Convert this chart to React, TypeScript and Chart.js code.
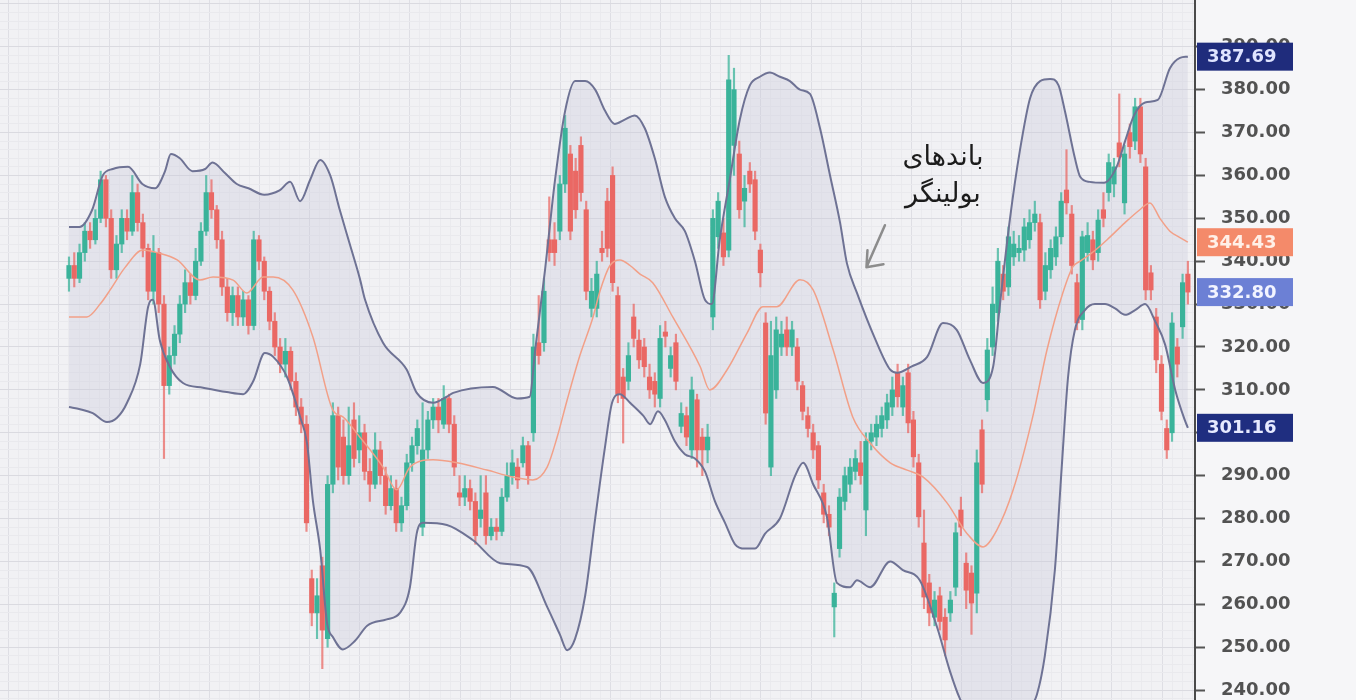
import React, { useEffect, useRef } from "react";
import { Chart, registerables } from "chart.js";

Chart.register(...registerables);

// ---------- candle data (index 0..212) ----------
const opens = [
  336, 339, 336, 342, 347, 345, 350, 359, 350, 338, 344, 350, 347, 356, 349, 343, 333, 342, 330, 311,
  318, 323, 330, 335, 332, 340, 347, 356, 352, 345, 334, 328, 332, 327, 331, 325, 345, 340, 333, 326,
  320, 316, 319, 312, 306, 302, 266, 258, 269, 252, 288, 304, 299, 290, 303, 296, 300, 291, 288, 296,
  290, 283, 287, 279, 283, 293, 297, 278, 296, 303, 306, 302, 308, 302, 286, 285, 287, 284, 280, 286,
  276, 278, 277, 285, 290, 292, 293, 297, 300, 321, 321, 345, 345, 347, 358, 365, 361, 367, 352, 329,
  329, 343, 354, 360, 332, 313, 312, 327, 321.6, 320, 313, 312, 308, 323.5, 315, 321, 301.5, 304, 296, 307.7,
  299, 296, 327, 345.7, 346.6, 342.6, 367, 365, 354, 361, 359, 342.6, 325.6, 292, 310, 320, 324, 320, 320, 311,
  304, 300, 297, 286, 281, 259.4, 273, 284, 288, 291, 293, 282, 298, 299, 301, 303, 306, 314, 306, 314,
  303, 293, 274.3, 265, 257, 262, 257, 258, 264, 282, 269.6, 267.3, 262.6, 300.7, 307.7, 320, 328, 337, 334, 341,
  342, 342.6, 345, 349, 349, 333, 338, 341, 345.7, 356.6, 351, 335, 326.4, 342, 345, 342, 352, 356, 358, 367.6,
  353.6, 370, 368, 376, 362, 337.3, 327, 316, 301, 300, 320, 324.7, 337,
];
const highs = [
  341, 342, 344, 349, 349, 352, 361, 360, 352, 346, 352, 352, 360, 358, 351, 344, 346, 343, 332, 320,
  325, 332, 338, 337, 343, 349, 360, 359, 353, 347, 336, 334, 334, 333, 332, 347, 346, 341, 334, 328,
  322, 322, 320, 314, 308, 304, 268, 266, 271, 290, 307, 306, 303, 306, 307, 304, 302, 294, 300, 298,
  292, 290, 289, 285, 295, 299, 303, 307, 305, 308, 308, 311, 309, 304, 290, 290, 289, 286, 290, 290,
  280, 280, 287, 293, 296, 294, 299, 298, 323, 332, 336, 355, 349, 360, 374, 367, 364, 369, 354, 336,
  340, 347, 357, 362, 334, 315, 321, 330, 324, 322, 316, 314, 325, 326, 320, 323, 307, 306, 313, 309,
  301, 302, 352, 356, 350, 388, 385, 368, 360, 363, 361, 344, 328, 326, 327, 326, 327, 326, 322, 312,
  306, 302, 298, 288, 283, 265, 287, 292, 294, 296, 298, 300, 302, 304, 306, 309, 313, 316, 313, 316,
  305, 295, 282, 267, 263, 264, 259, 263, 279, 285, 272, 269, 296, 303, 322, 334, 343, 339, 348, 347,
  346, 350, 352, 354, 351, 342, 345, 348, 356, 366, 353, 337, 347, 349, 347, 352, 356, 365, 364, 379,
  367, 372, 378, 378, 364, 339, 329, 318, 303, 328, 322, 337, 340,
];
const lows = [
  333, 334, 335, 340, 343, 344, 349, 348, 336, 336, 342, 345, 346, 347, 341, 331, 330, 328, 294, 309,
  316, 321, 328, 330, 331, 339, 346, 350, 343, 332, 326, 325, 325, 325, 323, 324, 338, 331, 324, 318,
  314, 313, 310, 304, 300, 277, 255, 252, 245, 250, 286, 289, 288, 288, 292, 293, 289, 284, 287, 288,
  281, 282, 277, 277, 282, 291, 295, 276, 294, 301, 300, 301, 300, 290, 283, 283, 282, 274, 278, 274,
  275, 275, 276, 284, 288, 287, 292, 288, 298, 316, 319, 340, 339, 345, 356, 345, 350, 354, 331, 327,
  327, 340, 341, 333, 307, 297.6, 310, 320, 315, 313, 308, 306, 306, 320, 313, 310, 300, 297, 294, 292,
  290, 293, 324, 343, 339, 341, 360, 350, 348, 356, 345, 334, 302, 290, 308, 318, 318, 318, 310, 303,
  299, 294, 287, 279, 276, 252.4, 271, 282, 286, 289, 288, 276, 296, 297, 299, 301, 304, 306, 304, 300,
  292, 278, 259, 255, 255, 254, 248, 256, 262, 276, 259, 253, 258, 286, 305, 318, 326, 331, 332, 339,
  340, 340, 343, 347, 329, 331, 336, 339, 344, 351, 337, 324, 324, 340, 338, 340, 348, 354, 355, 362,
  351, 364, 366, 363, 331, 331, 314, 303, 294, 298, 313, 322, 330,
];
const closes = [
  339, 336, 342, 347, 345, 350, 359, 350, 338, 344, 350, 347, 356, 349, 343, 333, 342, 330, 311, 318,
  323, 330, 335, 332, 340, 347, 356, 352, 345, 334, 328, 332, 327, 331, 325, 345, 340, 333, 326, 320,
  316, 319, 312, 306, 302, 279, 258, 262, 254, 288, 304, 292, 290, 297, 294, 300, 291, 288, 296, 290,
  283, 287, 279, 283, 293, 297, 301, 296, 303, 306, 303, 308, 302, 292, 285, 287, 284, 276, 282, 276,
  278, 277, 285, 290, 293, 289, 297, 290, 320, 318, 333, 342, 342, 358, 371, 347, 352, 356, 333, 333,
  337, 342, 343, 335, 309, 308, 318, 322, 317, 315.4, 310, 309, 322, 322.5, 318, 312, 304.5, 299, 310, 296,
  296, 299, 350, 354, 341, 382.3, 380, 352, 357, 358, 347, 337.3, 304.6, 318, 324, 323, 320, 324, 312, 305,
  301, 296, 289, 281, 278, 262.6, 285, 290, 292, 294, 290, 298, 300, 302, 304, 307, 310, 308.4, 311, 302.3,
  294.4, 280.4, 261.7, 258, 261, 256, 251.7, 261, 276.7, 278, 263.3, 260.3, 293, 288, 319.3, 330, 340, 333, 345.7, 344,
  343, 348, 349, 351, 331, 339, 343, 345.7, 354, 353.6, 339, 325.6, 345.7, 346, 340.3, 349.6, 350, 363, 362, 364.3,
  365, 366.7, 376, 365, 333.3, 333.3, 317, 305, 296, 325.6, 316, 335, 332.8,
];

// ---------- Bollinger bands: [candle index, price] ----------
const upperBand: [number, number][] = [
  [0, 348], [2, 348], [4.4, 352], [6.4, 360], [8.3, 361.5], [11.2, 362], [13.9, 358], [16.3, 357],
  [18.2, 361], [19.3, 365], [21, 364], [23.4, 361], [25.8, 361.5], [27.2, 363], [29.6, 360.5], [31.8, 358],
  [34, 357], [37, 355.5], [39.9, 356.5], [41.9, 358.5], [43.8, 354], [45.7, 359], [47.6, 363.6], [49.5, 360],
  [51.3, 352], [53.2, 344], [55.1, 336], [56.1, 331], [59.5, 321], [64, 314.7], [65.9, 309.3], [69, 307],
  [71.6, 308.4], [72.8, 309.3], [80.3, 310.7], [84.9, 308], [87.3, 308.4], [88.3, 319], [90.2, 338], [92.1, 359],
  [94, 375], [95.9, 382], [97.8, 382], [99.7, 380], [101.6, 375], [103.4, 372], [105.3, 373], [107.2, 374],
  [109.1, 371], [111, 364], [112.9, 355], [114.8, 350], [116.7, 347], [118.6, 340], [120.5, 331], [121.8, 330],
  [123.3, 345], [125.2, 359], [127.1, 373], [129, 381], [130.9, 383], [132.8, 384], [134.7, 383], [136.6, 382],
  [138.5, 380], [140.4, 379], [142.3, 371], [144.2, 360], [146.1, 349], [147.4, 339.5], [149.3, 332.6], [152.7, 322],
  [155.6, 314.7], [156.9, 314], [159.7, 315.5], [162.6, 317.7], [165.6, 325.6], [168.2, 324], [170.7, 317], [173.2, 311.6],
  [175.1, 315.4], [176.4, 330], [178.3, 350], [180.2, 366], [182.1, 378], [184, 382], [185.9, 382.5], [187.5, 381],
  [188.7, 375], [190.6, 364], [191.6, 359.7], [193.4, 358.5], [196.1, 358.3], [198.5, 362], [200.1, 368], [201.8, 374],
  [203.9, 377], [206.3, 377.6], [208.6, 385], [210.5, 387.4], [212, 387.69],
];
const middleBand: [number, number][] = [
  [0, 327], [3.4, 327], [5.9, 330], [7.8, 333.3], [10.6, 338.5], [14, 342.6], [16.7, 342], [20.5, 340.3],
  [24.8, 335.6], [27.3, 336.3], [31.1, 335.6], [33.7, 332.6], [36.8, 336.3], [38.7, 336.3], [42.4, 333.3], [46.2, 322.4],
  [50, 305.3], [51.9, 303.7], [55.1, 299], [59.5, 292], [62.1, 286.7], [64.6, 292], [69, 293.7], [73.5, 293],
  [79.2, 291.3], [84.1, 289.7], [87.9, 289], [90.6, 292], [92.5, 299], [94.4, 307.7], [96.8, 318], [99.3, 327],
  [100.6, 333], [102.5, 339], [104.4, 340.3], [106.3, 339], [108.2, 337], [110.6, 335], [114.4, 327], [119.6, 315.4],
  [121.4, 310], [124.7, 314.7], [128.5, 323.3], [131.5, 329.4], [134.1, 329.4], [138.5, 335.7], [141, 333.3], [144.8, 319.3],
  [148.5, 303.7], [151.8, 297.6], [155.6, 293], [158.8, 291.3], [161.8, 289.7], [166.4, 283.6], [170.1, 276.6], [173.2, 273.4],
  [175.8, 277.3], [178.9, 286.7], [182.6, 303.7], [185.3, 319.3], [188.3, 332.6], [190.2, 338.7], [191.6, 340], [194.4, 342.5],
  [196.7, 345], [200.1, 349], [202.9, 352], [204.8, 353.6], [206.7, 350], [208.6, 347], [210.5, 345.5], [212, 344.43],
];
const lowerBand: [number, number][] = [
  [0, 306], [2.1, 305.5], [4.5, 304.6], [7.2, 302.5], [9.1, 303.5], [11, 307], [13.5, 316], [15, 329.4],
  [15.9, 331], [17.2, 321.6], [19.1, 315.4], [21.6, 311.6], [25.4, 310.5], [29.9, 309.5], [33, 309], [34.9, 312],
  [37.1, 318.6], [38.7, 317.7], [41.3, 313], [43.8, 303.7], [45.1, 297.6], [46.2, 284.3], [47.6, 272.7], [48.9, 255.6],
  [50, 252.4], [51.9, 249.5], [54.2, 251.5], [56.5, 255], [60.2, 256.5], [62.7, 258], [64.6, 264], [65.9, 276.6],
  [67.1, 279], [71.6, 278.5], [76.5, 275], [81.7, 269.6], [86.8, 268.7], [90.6, 259.4], [93, 253], [94.4, 249.3],
  [95.9, 252], [97.8, 262], [99.7, 280], [101.6, 297], [102.9, 307], [104.4, 309], [106.3, 307], [108.8, 304],
  [110.1, 302], [111.6, 305], [112.9, 303], [114.8, 298], [116.7, 295], [118.6, 294], [120.5, 291], [122.4, 284],
  [124.3, 279], [126.2, 274], [128.1, 273], [130, 273], [131.9, 276.5], [134.7, 280], [137.6, 290], [139.1, 293],
  [141, 288], [143.6, 280.4], [145.5, 265], [148, 264], [149.3, 265.6], [151.8, 264], [155.6, 270], [158, 268],
  [161.2, 265.6], [164.5, 254.6], [166.9, 244.5], [168.8, 238], [170.7, 234], [173.6, 231], [176.4, 229.5], [179.2, 230.5],
  [181.7, 235], [183.4, 239], [184.9, 248], [186.8, 268], [188.1, 292], [189.3, 313], [190.6, 324], [192.5, 328.6],
  [194.4, 330], [196.3, 330], [198.2, 329], [200.1, 327.5], [202, 328.6], [203.9, 330], [205.8, 326], [207.7, 320.5],
  [209.6, 310], [211.4, 303], [212, 301.16],
];

// ---------- price labels on the axis ----------
const badgeValues = [387.69, 344.43, 332.8, 301.16];
const badgeColors = ["#1f2c7c", "#f48a6a", "#6c80d5", "#1f2e80"];
const badgeTextColors = ["#dfe4ff", "#fff0e8", "#f2f4ff", "#e6eaff"];

// ---------- annotation ----------
const annotationLines = ["باندهای", "بولینگر"];
const annotationAnchor = { idx: 165.6, values: [364, 355.4] };
const arrowFrom = { idx: 154.6, value: 348.4 };
const arrowTo = { idx: 151.1, value: 338.6 };

const yMin = 237.7;
const yMax = 400.9;
const xMin = -13.07;
const xMax = 213.35;
const labelMin = 240;
const labelMax = 390;

const GREEN = "#3ab39a";
const RED = "#ea6864";
const GREEN_W = "rgba(58,179,154,0.75)";
const RED_W = "rgba(234,104,100,0.75)";

export default function App() {
  const canvasRef = useRef<HTMLCanvasElement | null>(null);

  useEffect(() => {
    const canvas = canvasRef.current;
    if (!canvas) return;

    const idx = opens.map((_, i) => i);
    const up = idx.map((i) => closes[i] >= opens[i]);
    const bodyData = idx.map((i) => ({ x: i, y: [opens[i], closes[i]] }));
    const wickData = idx.map((i) => ({ x: i, y: [lows[i], highs[i]] }));
    const toPts = (arr: [number, number][]) => arr.map(([x, y]) => ({ x, y }));

    const bgPlugin = {
      id: "bgPlugin",
      beforeDraw(chart: any) {
        const { ctx, chartArea, width, height } = chart;
        ctx.save();
        ctx.fillStyle = "#f6f6f8";
        ctx.fillRect(0, 0, width, height);
        ctx.fillStyle = "#f1f1f4";
        ctx.fillRect(chartArea.left, chartArea.top, chartArea.right - chartArea.left, chartArea.bottom - chartArea.top);
        ctx.restore();
      },
    };

    const overlayPlugin = {
      id: "overlayPlugin",
      afterDraw(chart: any) {
        const { ctx, chartArea } = chart;
        const xs = chart.scales.x;
        const ys = chart.scales.y;
        ctx.save();
        // badges
        badgeValues.forEach((v, k) => {
          const py = ys.getPixelForValue(v);
          ctx.fillStyle = badgeColors[k];
          ctx.fillRect(chartArea.right + 2, py - 14, 96, 28);
          ctx.fillStyle = badgeTextColors[k];
          ctx.font = 'bold 18px "DejaVu Sans"';
          ctx.textAlign = "left";
          ctx.textBaseline = "middle";
          ctx.fillText(v.toFixed(2), chartArea.right + 12, py + 1);
        });
        // annotation text
        ctx.fillStyle = "#1c1c1c";
        ctx.font = '27px "DejaVu Sans"';
        ctx.textAlign = "center";
        ctx.textBaseline = "middle";
        (ctx as any).direction = "rtl";
        annotationLines.forEach((t, k) => {
          ctx.fillText(t, xs.getPixelForValue(annotationAnchor.idx), ys.getPixelForValue(annotationAnchor.values[k]));
        });
        (ctx as any).direction = "ltr";
        // arrow
        const x1 = xs.getPixelForValue(arrowFrom.idx);
        const y1 = ys.getPixelForValue(arrowFrom.value);
        const x2 = xs.getPixelForValue(arrowTo.idx);
        const y2 = ys.getPixelForValue(arrowTo.value);
        ctx.strokeStyle = "#8c8c8c";
        ctx.lineWidth = 2.5;
        ctx.lineCap = "round";
        ctx.lineJoin = "round";
        ctx.beginPath();
        ctx.moveTo(x1, y1);
        ctx.lineTo(x2, y2);
        ctx.moveTo(x2 + 1, y2 - 17);
        ctx.lineTo(x2, y2);
        ctx.lineTo(x2 + 17, y2 - 3);
        ctx.stroke();
        ctx.restore();
      },
    };

    const isMajorY = (v: number) => {
      const r = Math.round(v);
      return Math.abs(v - r) < 1e-6 && r % 10 === 0;
    };
    const isLabelled = (v: number) => isMajorY(v) && v >= labelMin && v <= labelMax;

    const chart = new Chart(canvas, {
      type: "bar",
      data: {
        datasets: [
          {
            type: "line",
            data: toPts(upperBand),
            borderColor: "#6e7294",
            borderWidth: 2,
            pointRadius: 0,
            cubicInterpolationMode: "monotone",
            fill: "+2",
            backgroundColor: "rgba(200,200,218,0.32)",
            order: 1,
          } as any,
          {
            type: "line",
            data: toPts(middleBand),
            borderColor: "#f2a088",
            borderWidth: 1.5,
            pointRadius: 0,
            cubicInterpolationMode: "monotone",
            fill: false,
            order: 1,
          } as any,
          {
            type: "line",
            data: toPts(lowerBand),
            borderColor: "#6e7294",
            borderWidth: 2,
            pointRadius: 0,
            cubicInterpolationMode: "monotone",
            fill: false,
            order: 1,
          } as any,
          {
            type: "bar",
            data: wickData as any,
            backgroundColor: up.map((u) => (u ? GREEN_W : RED_W)),
            barThickness: 1.5,
            grouped: false,
            order: 3,
          } as any,
          {
            type: "bar",
            data: bodyData as any,
            backgroundColor: up.map((u) => (u ? GREEN : RED)),
            barThickness: 4.5,
            minBarLength: 1,
            grouped: false,
            order: 2,
          } as any,
        ],
      },
      options: {
        animation: false,
        responsive: false,
        events: [],
        layout: { padding: 0 },
        plugins: {
          legend: { display: false },
          tooltip: { enabled: false },
          filler: { drawTime: "beforeDatasetsDraw" },
        } as any,
        scales: {
          x: {
            type: "linear",
            min: xMin,
            max: xMax,
            offset: false,
            ticks: { display: false, stepSize: 1.9, includeBounds: false } as any,
            grid: {
              offset: false,
              drawTicks: false,
              color: (c: any) => (c.index % 5 === 0 ? "#dedee4" : "#eaeaee"),
              lineWidth: 1,
            },
            border: { display: false },
          },
          y: {
            position: "right",
            min: yMin,
            max: yMax,
            afterFit(scale: any) {
              scale.width = 161;
              scale.paddingTop = 0;
              scale.paddingBottom = 0;
            },
            ticks: {
              stepSize: 2,
              autoSkip: false,
              includeBounds: false,
              padding: 16,
              color: "#525252",
              font: { family: "DejaVu Sans", size: 18, weight: "bold" },
              callback: (v: any) => {
                const n = Number(v);
                if (!isLabelled(n)) return "";
                return Math.round(n).toFixed(2);
              },
            } as any,
            grid: {
              color: (c: any) => (c.tick && isMajorY(c.tick.value) ? "#dadae0" : "#e9e9ed"),
              lineWidth: 1,
              drawTicks: true,
              tickLength: 10,
              tickWidth: 2,
              tickColor: (c: any) => (c.tick && isLabelled(c.tick.value) ? "#555555" : "rgba(0,0,0,0)"),
            } as any,
            border: { display: true, color: "#4a4a4a", width: 2 },
          },
        },
      } as any,
      plugins: [bgPlugin, overlayPlugin],
    });

    return () => chart.destroy();
  }, []);

  return (
    <div style={{ position: "fixed", left: 0, top: 0, width: 1356, height: 700, overflow: "hidden" }}>
      <canvas ref={canvasRef} width={1356} height={700} style={{ width: 1356, height: 700, display: "block" }} />
    </div>
  );
}
